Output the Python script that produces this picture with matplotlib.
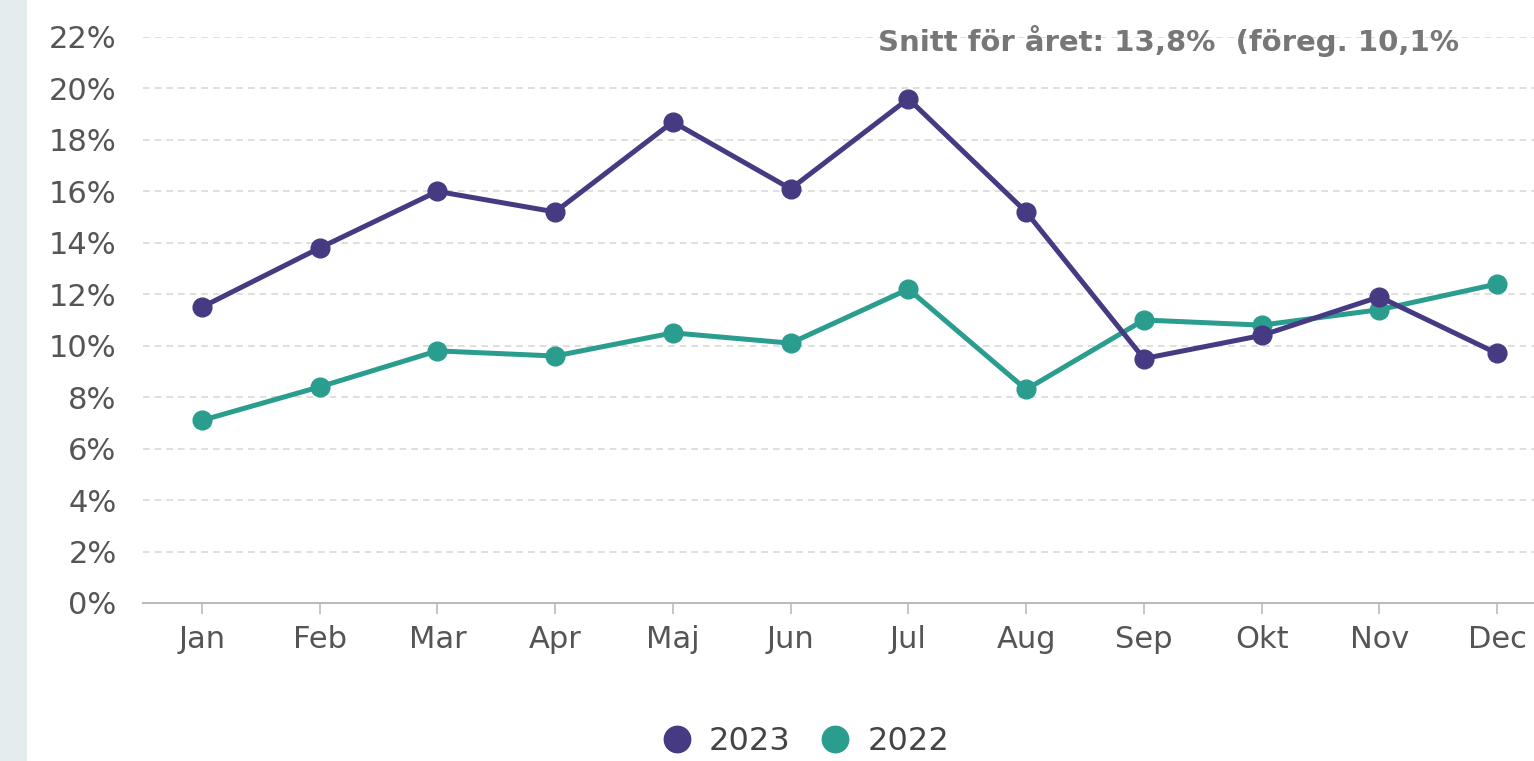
import matplotlib
matplotlib.use("Agg")
import matplotlib.pyplot as plt
from matplotlib.patches import Rectangle
from matplotlib.lines import Line2D

months = ["Jan", "Feb", "Mar", "Apr", "Maj", "Jun", "Jul", "Aug", "Sep", "Okt", "Nov", "Dec"]
y2023 = [11.5, 13.8, 16.0, 15.2, 18.7, 16.1, 19.6, 15.2, 9.5, 10.4, 11.9, 9.7]
y2022 = [7.1, 8.4, 9.8, 9.6, 10.5, 10.1, 12.2, 8.3, 11.0, 10.8, 11.4, 12.4]
yticks = list(range(0, 23, 2))
annotation = "Snitt för året: 13,8%  (föreg. 10,1%"

c23 = "#463a82"
c22 = "#2a9d8f"

plt.rcParams["font.family"] = ["DejaVu Sans"]

W, H = 1534, 761
fig = plt.figure(figsize=(W / 100, H / 100), dpi=100)
fig.patch.set_facecolor("white")
fig.add_artist(Rectangle((0, 0), 27 / W, 1, transform=fig.transFigure,
                         facecolor="#e4eded", edgecolor="none", zorder=0))

left = 143 / W
right = 1556 / W
bottom = 1 - 603 / H
top = 1 - 37 / H
ax = fig.add_axes([left, bottom, right - left, top - bottom])

x = list(range(len(months)))
ax.plot(x, y2023, color=c23, lw=3.6, marker="o", ms=13.5, zorder=4, clip_on=False)
ax.plot(x, y2022, color=c22, lw=3.6, marker="o", ms=13.5, zorder=3, clip_on=False)

ax.set_xlim(-0.5, 11.5)
ax.set_ylim(0, 22)
ax.set_yticks(yticks)
ax.set_yticklabels([f"{v}%" for v in yticks])
ax.set_xticks(x)
ax.set_xticklabels(months)

for v in yticks[1:]:
    ax.axhline(v, color="#d9d9d9", lw=1.2, ls=(0, (4, 3)), zorder=1)

for s in ["top", "right", "left"]:
    ax.spines[s].set_visible(False)
ax.spines["bottom"].set_color("#bbbbbb")
ax.spines["bottom"].set_linewidth(1.5)

ax.tick_params(axis="y", length=0, pad=19, labelsize=22, labelcolor="#555555")
ax.tick_params(axis="x", length=8, width=1.2, color="#bbbbbb", pad=8,
               labelsize=22, labelcolor="#555555")

fig.text(878 / W, 1 - 41 / H, annotation, fontsize=21, fontweight="bold",
         color="#777777", ha="left", va="center")

handles = [Line2D([], [], ls="none", marker="o", ms=19, color=c23, label="2023"),
           Line2D([], [], ls="none", marker="o", ms=19, color=c22, label="2022")]
fig.legend(handles=handles, loc="center", bbox_to_anchor=(805 / W, 1 - 742 / H),
           ncol=2, frameon=False, fontsize=23, handletextpad=0.5, columnspacing=0.9,
           labelcolor="#444444", handlelength=1.0, borderpad=0.1)

fig.savefig("out.png", dpi=100, facecolor="white")
